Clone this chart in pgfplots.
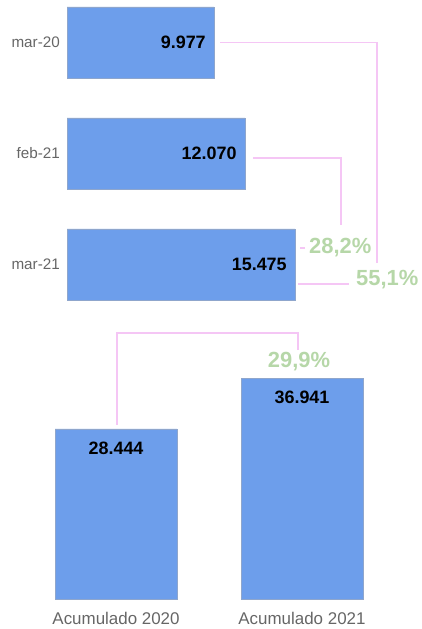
\documentclass[border=0pt]{standalone}
\usepackage{pgfplots}
\pgfplotsset{compat=1.18}
\usepackage{fontspec}
\setmainfont{Liberation Sans}
\definecolor{barblue}{HTML}{6D9EEB}
\definecolor{baredge}{HTML}{8FA6CC}
\definecolor{linkpink}{HTML}{F5C6F5}
\definecolor{pctgreen}{HTML}{B6D7A8}
\definecolor{lblgray}{HTML}{666666}
\begin{document}
\begin{tikzpicture}[x=1bp,y=1bp]
\path[use as bounding box] (0,0) rectangle (421,629);
% top: monthly values
\begin{axis}[
  at={(67bp,314bp)}, anchor=south west,
  scale only axis, width=354bp, height=315bp,
  xbar, bar width=0.64,
  xmin=0, xmax=24033, ymin=-0.383, ymax=2.455, y dir=reverse,
  ytick={0,1,2}, yticklabels={mar-20,feb-21,mar-21},
  xtick=\empty,
  axis line style={draw=none}, major tick length=0pt,
  yticklabel style={font=\fontsize{15.3}{17}\selectfont, text=lblgray, anchor=east, inner sep=0pt, xshift=-7bp},
  clip=false,
  nodes near coords, point meta=explicit symbolic,
  nodes near coords style={font=\bfseries\fontsize{18}{20}\selectfont, anchor=east, xshift=-8bp, inner sep=0pt, text=black},
]
\addplot[fill=barblue, draw=baredge, line width=0.5bp] coordinates {(9977,0)[9.977] (12070,1)[12.070] (15475,2)[15.475]};
\draw[linkpink, line width=1.5bp] (axis cs:10387,0) -| (axis cs:21045,1.986);
\draw[linkpink, line width=1.5bp] (axis cs:12627,1.04) -| (axis cs:18601,1.644);
\draw[linkpink, line width=1.5bp] (axis cs:15682,2.176) -- (axis cs:19145,2.176);
\draw[linkpink, line width=1.5bp] (axis cs:15818,1.851) -- (axis cs:16157,1.851);
\node[anchor=west, text=pctgreen, font=\bfseries\fontsize{22}{24}\selectfont, inner sep=0pt] at (axis cs:16429,1.851) {28,2\%};
\node[anchor=west, text=pctgreen, font=\bfseries\fontsize{22}{24}\selectfont, inner sep=0pt] at (axis cs:19620,2.14) {55,1\%};
\end{axis}
% bottom: accumulated
\begin{axis}[
  at={(0bp,30bp)}, anchor=south west,
  scale only axis, width=421bp, height=284bp,
  ybar, bar width=0.656,
  xmin=-0.624, xmax=1.640, ymin=0, ymax=47492,
  xtick={0,1}, xticklabels={Acumulado 2020,Acumulado 2021},
  ytick=\empty,
  axis line style={draw=none}, major tick length=0pt,
  xticklabel style={font=\fontsize{17}{19}\selectfont, text=lblgray, anchor=north, inner sep=0pt, yshift=-13bp},
  clip=false,
  nodes near coords, point meta=explicit symbolic,
  nodes near coords style={font=\bfseries\fontsize{18}{20}\selectfont, anchor=center, yshift=-19bp, inner sep=0pt, text=black},
]
\addplot[fill=barblue, draw=baredge, line width=0.5bp] coordinates {(0,28444)[28.444] (1,36941)[36.941]};
\draw[linkpink, line width=1.5bp] (axis cs:0.005,29097) |- (axis cs:0.978,44482) -- (axis cs:0.978,41639);
\node[anchor=center, text=pctgreen, font=\bfseries\fontsize{22}{24}\selectfont, inner sep=0pt] at (axis cs:0.984,39632) {29,9\%};
\end{axis}
\end{tikzpicture}
\end{document}
